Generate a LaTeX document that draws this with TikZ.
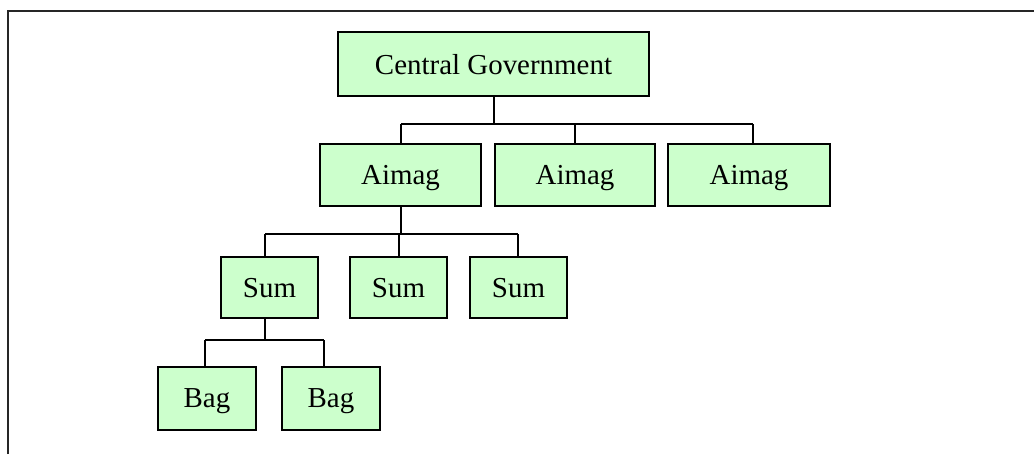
\documentclass[tikz,border=0pt]{standalone}
\usepackage{fontspec}
\setmainfont{Liberation Serif}
\usepackage{tikz}
\usetikzlibrary{positioning,calc}
\definecolor{cBoxL}{HTML}{CCFFCC}

\begin{document}
\begin{tikzpicture}[
    x=0.75pt, y=-0.75pt,
    font=\fontsize{21.7}{26}\selectfont,
    unit/.style={rectangle, draw=black, fill=cBoxL, line width=1.5pt,
      inner sep=0pt, text depth=0pt, align=center},
    link/.style={line width=1.5pt, draw=black},
    frame/.style={line width=2.2pt, draw=black!85}]

    \useasboundingbox (0,0) rectangle (1034,454);

    % outer frame (only top and left edges visible)
    \draw[frame] (8,454) -- (8,11) -- (1034,11);

    \node[unit, minimum width=233pt, minimum height=48pt] (gov) at (493.5,64) {Central Government};

    \node[unit, minimum width=121pt, minimum height=46.5pt] (aim1) at (400.5,175) {Aimag};
    \node[unit, minimum width=120pt, minimum height=46.5pt] (aim2) at (575,175)   {Aimag};
    \node[unit, minimum width=121pt, minimum height=46.5pt] (aim3) at (749,175)   {Aimag};

    \node[unit, minimum width=73pt, minimum height=46pt] (sum1) at (269.5,287.5) {Sum};
    \node[unit, minimum width=73pt, minimum height=46pt] (sum2) at (398.5,287.5) {Sum};
    \node[unit, minimum width=73pt, minimum height=46pt] (sum3) at (518.5,287.5) {Sum};

    \node[unit, minimum width=73.5pt, minimum height=47pt] (bag1) at (207,398.5) {Bag};
    \node[unit, minimum width=73.5pt, minimum height=47pt] (bag2) at (331,398.5) {Bag};

    % bars
    \coordinate (barAl) at (401,124);
    \coordinate (barAr) at (753,124);
    \coordinate (barSl) at (265,234);
    \coordinate (barSr) at (518,234);
    \coordinate (barBl) at (205,340);
    \coordinate (barBr) at (324,340);

    \draw[link] (gov.south) -- (gov.south |- barAl);
    \draw[link] (barAl) -- (barAr);
    \draw[link] (barAl) -- (barAl |- aim1.north);
    \draw[link] (aim2.north) -- (aim2.north |- barAl);
    \draw[link] (barAr) -- (barAr |- aim3.north);

    \draw[link] (aim1.south) -- (aim1.south |- barSl);
    \draw[link] (barSl) -- (barSr);
    \draw[link] (barSl) -- (barSl |- sum1.north);
    \draw[link] (sum2.north) -- (sum2.north |- barSl);
    \draw[link] (barSr) -- (barSr |- sum3.north);

    \draw[link] (barSl |- sum1.south) -- (barSl |- barBl);
    \draw[link] (barBl) -- (barBr);
    \draw[link] (barBl) -- (barBl |- bag1.north);
    \draw[link] (barBr) -- (barBr |- bag2.north);
\end{tikzpicture}
\end{document}
